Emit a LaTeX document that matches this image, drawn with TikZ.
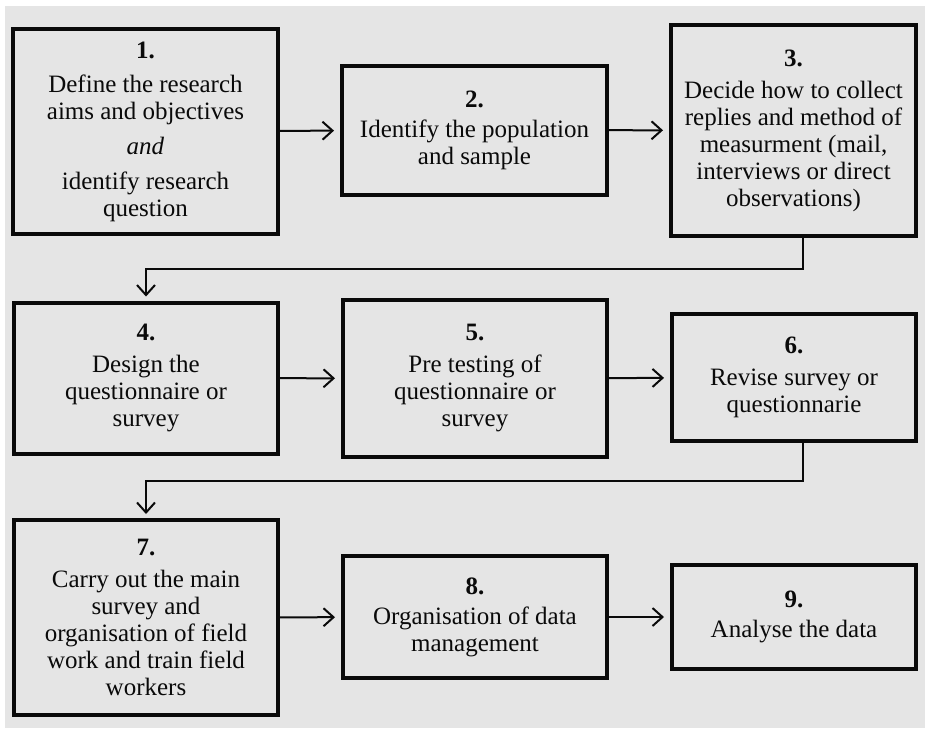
\documentclass[tikz,border=0pt]{standalone}
\usepackage{fontspec}
\setmainfont{Liberation Serif}
\usepackage{tikz}
\usetikzlibrary{arrows.meta,positioning,calc}
\definecolor{paper}{HTML}{E5E5E5}
\definecolor{ink}{HTML}{0A0A0A}

\begin{document}
\begin{tikzpicture}[
  x=1pt, y=-1pt,
  stepbox/.style={draw=ink, line width=4pt, fill=paper, align=center, inner sep=2pt,
    font=\fontsize{25}{27}\selectfont, text=ink},
  arr/.style={draw=ink, line width=2pt, -{Straight Barb[length=10pt,width=18pt]}, shorten >=6pt},
  link/.style={draw=ink, line width=2pt, -{Straight Barb[length=10pt,width=18pt]}, shorten >=4pt}
]
  \useasboundingbox (0,0) rectangle (925,728);
  \fill[paper] (5,6) rectangle (925,728);
  % first row
  \node[stepbox, minimum width=265pt, minimum height=205pt] (b1) at (145.5,131.5)
    {{\bfseries 1.}\\[7pt]Define the research\\aims and objectives\\[8pt]\textit{and}\\[8pt]identify research\\question};
  \node[stepbox, minimum width=265pt, minimum height=129pt] (b2) at (474.5,130)
    {{\bfseries 2.}\\[3pt]Identify the population\\and sample};
  \node[stepbox, minimum width=245pt, minimum height=211pt] (b3) at (793.5,130.5)
    {{\bfseries 3.}\\[5pt]Decide how to collect\\replies and method of\\measurment (mail,\\interviews or direct\\observations)};
  % second row
  \node[stepbox, minimum width=264pt, minimum height=151pt] (b4) at (146,378)
    {{\bfseries 4.}\\[5pt]Design the\\questionnaire or\\survey};
  \node[stepbox, minimum width=264pt, minimum height=157pt] (b5) at (475,378.5)
    {{\bfseries 5.}\\[5pt]Pre testing of\\questionnaire or\\survey};
  \node[stepbox, minimum width=244pt, minimum height=127pt] (b6) at (794,377.5)
    {{\bfseries 6.}\\[5pt]Revise survey or\\questionnarie};
  % third row
  \node[stepbox, minimum width=264pt, minimum height=195pt] (b7) at (146,617.5)
    {{\bfseries 7.}\\[5pt]Carry out the main\\survey and\\organisation of field\\work and train field\\workers};
  \node[stepbox, minimum width=264pt, minimum height=122pt] (b8) at (475,617)
    {{\bfseries 8.}\\[3pt]Organisation of data\\management};
  \node[stepbox, minimum width=244pt, minimum height=104pt] (b9) at (794,617)
    {{\bfseries 9.}\\[3pt]Analyse the data};
  % connectors
  \draw[arr] (b1) -- (b2);
  \draw[arr] (b2) -- (b3);
  \draw[arr] (b4) -- (b5);
  \draw[arr] (b5) -- (b6);
  \draw[arr] (b7) -- (b8);
  \draw[arr] (b8) -- (b9);
  \coordinate (k1) at (803,269);
  \coordinate (k2) at (803,481);
  \draw[link] (b3.south -| k1) -- (k1) -| (b4.north);
  \draw[link] (b6.south -| k2) -- (k2) -| (b7.north);
\end{tikzpicture}
\end{document}
